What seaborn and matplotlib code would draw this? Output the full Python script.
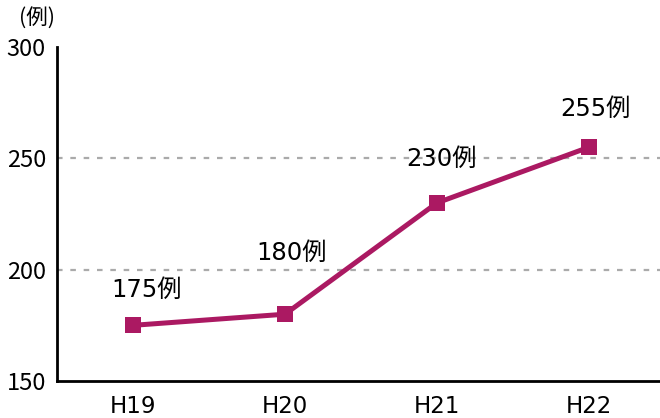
import matplotlib
matplotlib.use("Agg")
import matplotlib.pyplot as plt
import seaborn as sns
import pandas as pd

# data
years = ["H19", "H20", "H21", "H22"]
cases = [175, 180, 230, 255]
labels = ["175例", "180例", "230例", "255例"]

# label offsets in pixels (dx, dy) from each point
label_offsets = [(14, 35), (7, 61), (4, 44), (6, 38)]

sns.set_theme(style="white")
plt.rcParams["font.family"] = ["Noto Sans CJK JP", "DejaVu Sans"]
wide_font = ["DejaVu Sans", "Noto Sans CJK JP"]

line_color = "#ab1962"

df = pd.DataFrame({"year": years, "cases": cases})

fig = plt.figure(figsize=(6.6, 4.18), dpi=100)
ax = fig.add_axes([57 / 660, 1 - 381 / 418, (660 - 57) / 660, (381 - 47) / 418])

sns.lineplot(data=df, x="year", y="cases", ax=ax, color=line_color,
             linewidth=3.6, marker="s", markersize=11.5,
             markeredgewidth=0, sort=False, zorder=3)

ax.set_ylim(150, 300)
ax.set_xlim(-0.5, (660 - 133) / 152)
ax.set_yticks([150, 200, 250, 300])
ax.set_yticklabels(["150", "200", "250", "300"], fontsize=17)
ax.set_xticks(range(len(years)))
ax.set_xticklabels(years, fontsize=16.5, family=wide_font)
ax.set_xlabel("")
ax.set_ylabel("")

for y in [200, 250]:
    ax.axhline(y, color="#aaaaaa", linewidth=1.6, linestyle=(0, (2.5, 3.5)), zorder=1)

for s in ["top", "right"]:
    ax.spines[s].set_visible(False)
for s in ["left", "bottom"]:
    ax.spines[s].set_color("black")
    ax.spines[s].set_linewidth(2)

ax.tick_params(axis="x", direction="in", length=7, width=1.5, color="black",
               pad=10, labelcolor="black")
ax.tick_params(axis="y", length=0, pad=8, labelcolor="black")

for i, (lab, val) in enumerate(zip(labels, cases)):
    dx, dy = label_offsets[i]
    ax.annotate(lab, xy=(i, val), xytext=(dx * 0.72, dy * 0.72),
                textcoords="offset points", ha="center", va="center",
                fontsize=17.5, color="black", family=wide_font)

fig.text(37 / 660, 1 - 19 / 418, "(例)", ha="center", va="center",
         fontsize=15.5, color="black")

fig.savefig("out.png", dpi=100)
